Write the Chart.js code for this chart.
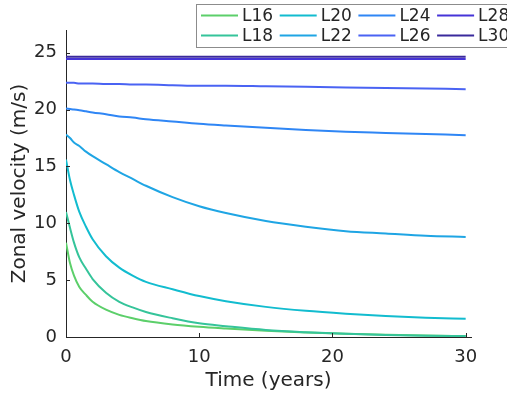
<!DOCTYPE html>
<html>
<head>
<meta charset="utf-8">
<script src="https://cdn.jsdelivr.net/npm/chart.js@4/dist/chart.umd.min.js"></script>
<style>
  html, body { margin: 0; padding: 0; background: #fff; }
  #wrap { width: 507px; height: 398px; position: relative; }
</style>
</head>
<body>
<div id="wrap"><canvas id="velChart" width="507" height="398"></canvas></div>
<script>
// Time samples (years)
const times = [0, 0.3, 0.6, 1, 1.5, 2, 3, 4, 5, 6, 8, 10, 12, 15, 18, 21, 24, 27, 30];

// Zonal velocity (m/s) for each level
const l16 = [8.3, 6.5, 5.4, 4.4, 3.7, 3.1, 2.4, 1.95, 1.65, 1.4, 1.1, 0.9, 0.75, 0.55, 0.4, 0.28, 0.2, 0.13, 0.08];
const l18 = [11.0, 9.6, 8.3, 7.0, 6.0, 5.1, 3.9, 3.1, 2.6, 2.2, 1.65, 1.2, 0.95, 0.62, 0.42, 0.28, 0.18, 0.12, 0.08];
const l20 = [15.6, 13.8, 12.5, 11.0, 9.7, 8.6, 7.1, 6.1, 5.4, 4.85, 4.2, 3.6, 3.15, 2.65, 2.3, 2.05, 1.85, 1.7, 1.6];
const l22 = [17.8, 17.5, 17.1, 16.8, 16.3, 15.9, 15.2, 14.5, 13.9, 13.3, 12.3, 11.5, 10.9, 10.2, 9.7, 9.3, 9.1, 8.9, 8.8];
const l24 = [20.1, 20.05, 20.0, 19.95, 19.85, 19.75, 19.6, 19.4, 19.3, 19.15, 18.95, 18.75, 18.6, 18.4, 18.2, 18.05, 17.95, 17.85, 17.75];
const l26 = [22.35, 22.35, 22.35, 22.3, 22.3, 22.3, 22.25, 22.25, 22.2, 22.2, 22.15, 22.1, 22.1, 22.05, 22.0, 21.95, 21.9, 21.85, 21.8];
const l28 = [24.45, 24.45, 24.45, 24.45, 24.45, 24.45, 24.45, 24.45, 24.45, 24.45, 24.45, 24.45, 24.45, 24.45, 24.45, 24.45, 24.45, 24.45, 24.45];
const l30 = [24.65, 24.65, 24.65, 24.65, 24.65, 24.65, 24.65, 24.65, 24.65, 24.65, 24.65, 24.65, 24.65, 24.65, 24.65, 24.65, 24.65, 24.65, 24.65];

const levelNames = ["L16", "L18", "L20", "L22", "L24", "L26", "L28", "L30"];
const levelValues = [l16, l18, l20, l22, l24, l26, l28, l30];
const levelColors = ["#5ccf6a", "#35c49a", "#12bccf", "#1fa5e4", "#2f86f5", "#4a63f3", "#4634d8", "#3a2a9c"];

// Axis ticks
const xTicks = [0, 10, 20, 30];
const yTicks = [0, 5, 10, 15, 20, 25];

const textColor = "#262626";
const axisColor = "#262626";

// MATLAB-style inward tick marks
const inwardTicks = {
  id: "inwardTicks",
  afterDraw(chart) {
    const { ctx, chartArea, scales } = chart;
    ctx.save();
    ctx.strokeStyle = axisColor;
    ctx.lineWidth = 1;
    ctx.beginPath();
    xTicks.forEach((t) => {
      const px = Math.round(scales.x.getPixelForValue(t)) + 0.5;
      ctx.moveTo(px, chartArea.bottom);
      ctx.lineTo(px, chartArea.bottom - 4);
    });
    yTicks.forEach((t) => {
      const py = Math.round(scales.y.getPixelForValue(t)) + 0.5;
      ctx.moveTo(chartArea.left, py);
      ctx.lineTo(chartArea.left + 4, py);
    });
    ctx.stroke();
    ctx.restore();
  },
};

// Boxed legend in two rows, filled column by column
const boxLegend = {
  id: "boxLegend",
  afterDraw(chart) {
    const { ctx } = chart;
    const sets = chart.data.datasets;
    ctx.save();
    ctx.fillStyle = "#fff";
    ctx.fillRect(196, 4, 320, 43);
    ctx.strokeStyle = "#8c8c8c";
    ctx.lineWidth = 1;
    ctx.strokeRect(196.5, 4.5, 320, 43);
    ctx.font = "17px 'DejaVu Sans'";
    ctx.textBaseline = "middle";
    ctx.textAlign = "left";
    sets.forEach((ds, i) => {
      const col = Math.floor(i / 2);
      const row = i % 2;
      const x0 = 201 + col * 78.7;
      const y0 = 15.5 + row * 20;
      ctx.strokeStyle = ds.borderColor;
      ctx.lineWidth = 2;
      ctx.beginPath();
      ctx.moveTo(x0, y0);
      ctx.lineTo(x0 + 37, y0);
      ctx.stroke();
      ctx.fillStyle = textColor;
      ctx.fillText(ds.label, x0 + 41, y0 + 1);
    });
    ctx.restore();
  },
};

const ctx = document.getElementById("velChart");
new Chart(ctx, {
  type: "line",
  data: {
    datasets: levelNames.map((name, i) => ({
      label: name,
      data: times.map((t, j) => ({ x: t, y: levelValues[i][j] })),
      borderColor: levelColors[i],
      backgroundColor: levelColors[i],
      borderWidth: 2,
      pointRadius: 0,
      fill: false,
      cubicInterpolationMode: "monotone",
      order: 8 - i,
    })),
  },
  options: {
    responsive: false,
    animation: false,
    layout: { padding: { top: 30, right: 36, left: 0, bottom: 0 } },
    plugins: {
      legend: { display: false },
      tooltip: { enabled: false },
    },
    scales: {
      x: {
        type: "linear",
        min: 0,
        max: 30.4,
        afterFit: (scale) => { scale.height = 61; },
        afterBuildTicks: (scale) => { scale.ticks = xTicks.map((v) => ({ value: v })); },
        grid: { display: false, drawTicks: false },
        border: { display: true, color: axisColor, width: 1 },
        ticks: {
          color: textColor,
          padding: 10,
          maxRotation: 0,
          font: { family: "DejaVu Sans", size: 18 },
        },
        title: {
          display: true,
          text: "Time (years)",
          color: textColor,
          font: { family: "DejaVu Sans", size: 20 },
          padding: { top: 0, bottom: 5 },
        },
      },
      y: {
        type: "linear",
        min: 0,
        max: 27,
        afterFit: (scale) => { scale.width = 66; },
        afterBuildTicks: (scale) => { scale.ticks = yTicks.map((v) => ({ value: v })); },
        grid: { display: false, drawTicks: false },
        border: { display: true, color: axisColor, width: 1 },
        ticks: {
          color: textColor,
          padding: 9,
          font: { family: "DejaVu Sans", size: 18 },
        },
        title: {
          display: true,
          text: "Zonal velocity (m/s)",
          color: textColor,
          font: { family: "DejaVu Sans", size: 20 },
          padding: { top: 8, bottom: 0 },
        },
      },
    },
  },
  plugins: [inwardTicks, boxLegend],
});
</script>
</body>
</html>
